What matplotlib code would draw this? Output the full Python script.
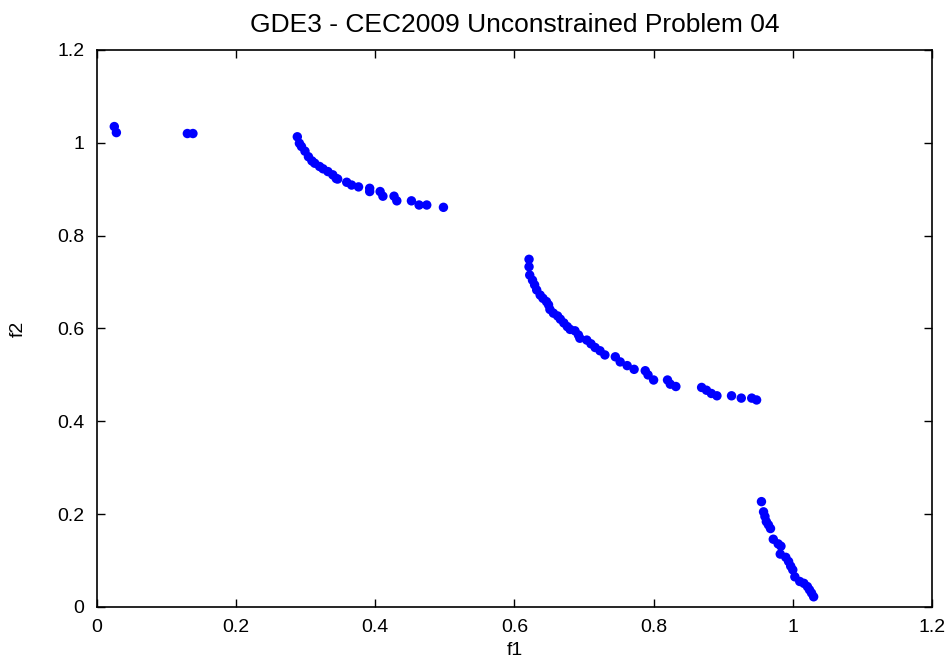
import matplotlib
matplotlib.use("Agg")
import matplotlib.pyplot as plt

plt.rcParams['font.family'] = ['Liberation Sans', 'DejaVu Sans']

# Pareto front points
f1 = [0.025, 0.028, 0.130, 0.138,
      0.288, 0.291, 0.294, 0.299, 0.304, 0.309, 0.313, 0.320, 0.325, 0.332,
      0.339, 0.344, 0.346, 0.359, 0.366, 0.376, 0.392, 0.392, 0.407, 0.411,
      0.427, 0.431, 0.452, 0.463, 0.474, 0.498,
      0.621, 0.621, 0.622, 0.626, 0.629, 0.632, 0.637, 0.641, 0.646, 0.649,
      0.651, 0.656, 0.662, 0.666, 0.671, 0.676, 0.680, 0.687, 0.692, 0.694,
      0.704, 0.710, 0.716, 0.723, 0.730, 0.745, 0.752, 0.762, 0.772, 0.788,
      0.792, 0.800, 0.820, 0.824, 0.832, 0.869, 0.876, 0.883, 0.891, 0.912,
      0.926, 0.941, 0.948,
      0.955, 0.958, 0.960, 0.962, 0.965, 0.968, 0.972, 0.979, 0.983, 0.982,
      0.990, 0.994, 0.997, 1.000, 1.003, 1.010, 1.016, 1.021, 1.024, 1.027,
      1.030]
f2 = [1.035, 1.022, 1.020, 1.020,
      1.013, 0.999, 0.992, 0.982, 0.970, 0.961, 0.956, 0.949, 0.944, 0.938,
      0.931, 0.923, 0.922, 0.915, 0.909, 0.905, 0.902, 0.895, 0.895, 0.885,
      0.885, 0.875, 0.875, 0.866, 0.866, 0.861,
      0.749, 0.733, 0.715, 0.704, 0.694, 0.683, 0.672, 0.665, 0.658, 0.651,
      0.641, 0.633, 0.627, 0.620, 0.612, 0.604, 0.598, 0.595, 0.586, 0.579,
      0.575, 0.567, 0.559, 0.552, 0.543, 0.539, 0.528, 0.520, 0.512, 0.509,
      0.500, 0.489, 0.489, 0.480, 0.475, 0.473, 0.467, 0.460, 0.455, 0.455,
      0.450, 0.450, 0.446,
      0.227, 0.205, 0.195, 0.184, 0.177, 0.169, 0.146, 0.136, 0.131, 0.114,
      0.107, 0.098, 0.088, 0.080, 0.065, 0.055, 0.051, 0.044, 0.037, 0.030,
      0.022]

ticks = [0, 0.2, 0.4, 0.6, 0.8, 1, 1.2]
tick_labels = ['0', '0.2', '0.4', '0.6', '0.8', '1', '1.2']

fig = plt.figure(figsize=(9.5, 6.61), dpi=100)
ax = fig.add_axes([0.102, 0.0817, 0.879, 0.8427])

ax.scatter(f1, f2, s=46, color='#0000ff', edgecolors='none', zorder=3)

ax.set_xlim(0, 1.2)
ax.set_ylim(0, 1.2)
ax.set_xticks(ticks)
ax.set_xticklabels(tick_labels)
ax.set_yticks(ticks)
ax.set_yticklabels(tick_labels)
ax.tick_params(direction='in', top=True, right=True, length=6, width=1,
               labelsize=14, pad=9)
for s in ax.spines.values():
    s.set_linewidth(1.2)

ax.set_xlabel('f1', fontsize=14, labelpad=4)
ax.set_ylabel('f2', fontsize=14, labelpad=22)
ax.set_title('GDE3 - CEC2009 Unconstrained Problem 04', fontsize=19, pad=13)

fig.savefig('out.png', dpi=100)
